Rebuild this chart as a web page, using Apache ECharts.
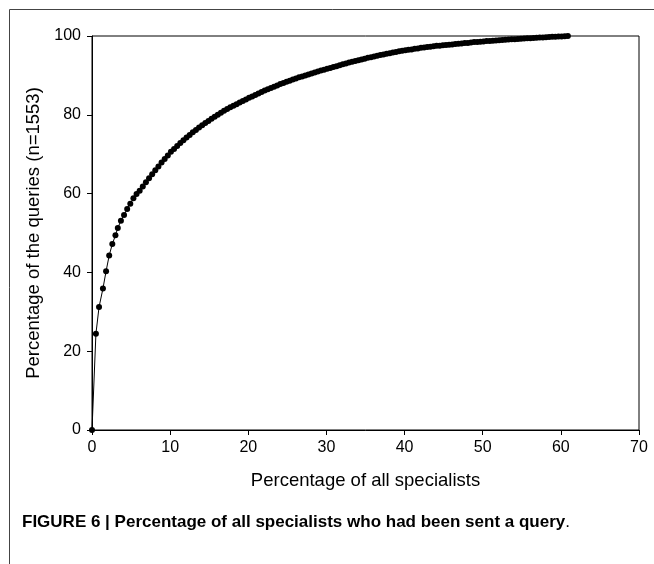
<!DOCTYPE html>
<html>
<head>
<meta charset="utf-8">
<script src="https://cdn.jsdelivr.net/npm/echarts@6/dist/echarts.min.js"></script>
<style>
  html, body { margin: 0; padding: 0; background: #fff; }
  #main { width: 654px; height: 564px; }
</style>
</head>
<body>
<div id="main"></div>
<script>
  // x: percentage of all specialists (one dot per specialist)
  var pctSpecialists = [
    0, 0.5, 0.9, 1.4, 1.8, 2.2, 2.6, 3.0, 3.3, 3.7, 4.1, 4.5, 4.9, 5.3, 5.7, 6.1,
    6.5, 6.9, 7.3, 7.7, 8.1, 8.5, 8.9, 9.3, 9.7, 10.1,
    10.5, 10.9, 11.3, 11.7, 12.1, 12.5, 12.9, 13.3, 13.7, 14.1,
    14.5, 14.9, 15.3, 15.7, 16.1, 16.5, 16.9, 17.3, 17.7, 18.1,
    18.5, 18.9, 19.3, 19.7, 20.1, 20.5, 20.9, 21.3, 21.7, 22.1,
    22.5, 22.9, 23.3, 23.7, 24.1, 24.5, 24.9, 25.3, 25.7, 26.1,
    26.5, 26.9, 27.3, 27.7, 28.1, 28.5, 28.9, 29.3, 29.7, 30.1,
    30.5, 30.9, 31.3, 31.7, 32.1, 32.5, 32.9, 33.3, 33.7, 34.1,
    34.5, 34.9, 35.3, 35.7, 36.1, 36.5, 36.9, 37.3, 37.7, 38.1,
    38.5, 38.9, 39.3, 39.7, 40.1, 40.5, 40.9, 41.3, 41.7, 42.1,
    42.5, 42.9, 43.3, 43.7, 44.1, 44.5, 44.9, 45.3, 45.7, 46.1,
    46.5, 46.9, 47.3, 47.7, 48.1, 48.5, 48.9, 49.3, 49.7, 50.1,
    50.5, 50.9, 51.3, 51.7, 52.1, 52.5, 52.9, 53.3, 53.7, 54.1,
    54.5, 54.9, 55.3, 55.7, 56.1, 56.5, 56.9, 57.3, 57.7, 58.1,
    58.5, 58.9, 59.3, 59.7, 60.1, 60.5, 60.9
  ];
  // y: cumulative percentage of the queries
  var pctQueries = [
    0, 24.4, 31.2, 35.9, 40.3, 44.3, 47.2, 49.4, 51.3, 53.1, 54.6, 56.1, 57.4, 58.8, 59.9, 60.7,
    61.8, 62.9, 63.9, 64.9, 65.9, 66.9, 67.9, 68.8, 69.7, 70.6,
    71.35, 72.1, 72.85, 73.55, 74.25, 74.9, 75.55, 76.15, 76.75, 77.35,
    77.9, 78.45, 79.0, 79.5, 80.0, 80.5, 81.0, 81.45, 81.9, 82.3,
    82.7, 83.1, 83.5, 83.9, 84.3, 84.65, 85.05, 85.4, 85.8, 86.15,
    86.5, 86.8, 87.15, 87.45, 87.8, 88.1, 88.4, 88.65, 88.95, 89.2,
    89.5, 89.75, 90.0, 90.25, 90.5, 90.75, 91.0, 91.25, 91.45, 91.7,
    91.9, 92.15, 92.35, 92.6, 92.8, 93.0, 93.25, 93.45, 93.65, 93.85,
    94.05, 94.25, 94.45, 94.6, 94.8, 95.0, 95.15, 95.3, 95.5, 95.65,
    95.8, 95.95, 96.1, 96.25, 96.4, 96.5, 96.6, 96.75, 96.85, 97.0,
    97.1, 97.2, 97.3, 97.4, 97.5, 97.55, 97.65, 97.7, 97.8, 97.85,
    97.95, 98.05, 98.1, 98.2, 98.25, 98.35, 98.45, 98.5, 98.55, 98.6,
    98.7, 98.75, 98.8, 98.85, 98.9, 99.0, 99.05, 99.1, 99.15, 99.2,
    99.25, 99.3, 99.35, 99.4, 99.45, 99.5, 99.55, 99.6, 99.65, 99.7,
    99.75, 99.8, 99.83, 99.87, 99.9, 99.95, 100
  ];

  var seriesData = [];
  for (var i = 0; i < pctSpecialists.length; i++) {
    seriesData.push([pctSpecialists[i], pctQueries[i]]);
  }

  var axisFont = 'Liberation Sans, Arial, sans-serif';

  var option = {
    animation: false,
    backgroundColor: '#fff',
    grid: {
      left: 92,
      right: 15,
      top: 36,
      bottom: 134,
      show: true,
      borderColor: '#000',
      borderWidth: 1
    },
    xAxis: {
      type: 'value',
      min: 0,
      max: 70,
      interval: 10,
      name: 'Percentage of all specialists',
      nameLocation: 'middle',
      nameGap: 41,
      nameTextStyle: { color: '#000', fontSize: 18.5, fontFamily: axisFont },
      axisLine: { show: true, onZero: false, lineStyle: { color: '#000', width: 1 } },
      axisTick: { show: true, length: 5, lineStyle: { color: '#000' } },
      axisLabel: { color: '#000', fontSize: 16, fontFamily: axisFont, margin: 10 },
      splitLine: { show: false }
    },
    yAxis: {
      type: 'value',
      min: 0,
      max: 100,
      interval: 20,
      name: 'Percentage of the queries (n=1553)',
      nameLocation: 'middle',
      nameGap: 45,
      nameTextStyle: { color: '#000', fontSize: 18.5, fontFamily: axisFont },
      axisLine: { show: true, onZero: false, lineStyle: { color: '#000', width: 1 } },
      axisTick: { show: true, length: 5, lineStyle: { color: '#000' } },
      axisLabel: { color: '#000', fontSize: 16, fontFamily: axisFont, margin: 11 },
      splitLine: { show: false }
    },
    series: [
      {
        type: 'line',
        data: seriesData,
        symbol: 'circle',
        symbolSize: 6,
        showSymbol: true,
        showAllSymbol: true,
        clip: false,
        itemStyle: { color: '#000' },
        lineStyle: { color: '#000', width: 1 }
      }
    ],
    graphic: [
      {
        type: 'rect',
        shape: { x: 9.5, y: 9.5, width: 700, height: 600 },
        style: { fill: 'none', stroke: '#444', lineWidth: 1 },
        silent: true
      },
      {
        type: 'text',
        left: 22,
        top: 514,
        style: {
          text: '{b|FIGURE 6 | Percentage of all specialists who had been sent a query}{n|.}',
          rich: {
            b: { fontFamily: 'Liberation Sans, Arial, sans-serif', fontWeight: 'bold', fontSize: 17, fill: '#000' },
            n: { fontFamily: 'Liberation Sans, Arial, sans-serif', fontWeight: 'normal', fontSize: 17, fill: '#000' }
          }
        }
      }
    ]
  };

  var myChart = echarts.init(document.getElementById('main'));
  myChart.setOption(option);
</script>
</body>
</html>
